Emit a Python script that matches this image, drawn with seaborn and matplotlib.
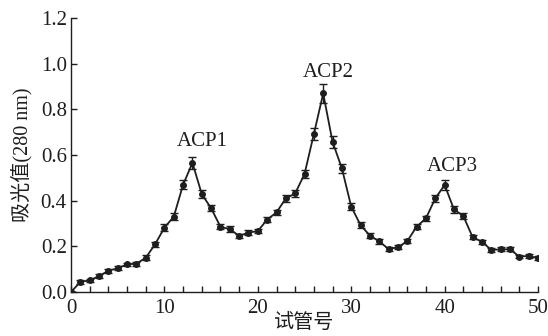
import matplotlib
matplotlib.use("Agg")
import matplotlib.pyplot as plt
from matplotlib.ticker import MultipleLocator
import numpy as np
import pandas as pd
import seaborn as sns

# tube number vs absorbance at 280 nm
tubes = list(range(0, 51))
absorb = [0.000, 0.044, 0.051, 0.070, 0.093, 0.104, 0.121, 0.124, 0.150, 0.209,
          0.282, 0.330, 0.470, 0.566, 0.429, 0.367, 0.286, 0.275, 0.246, 0.260,
          0.267, 0.317, 0.349, 0.410, 0.432, 0.517, 0.692, 0.870, 0.658, 0.542,
          0.374, 0.293, 0.247, 0.222, 0.188, 0.196, 0.223, 0.286, 0.323, 0.410,
          0.469, 0.362, 0.333, 0.240, 0.220, 0.184, 0.187, 0.187, 0.155, 0.158,
          0.148]
err = [0.005, 0.008, 0.008, 0.008, 0.008, 0.008, 0.008, 0.008, 0.010, 0.012,
       0.014, 0.014, 0.020, 0.025, 0.016, 0.014, 0.012, 0.012, 0.010, 0.010,
       0.010, 0.012, 0.012, 0.016, 0.014, 0.018, 0.025, 0.040, 0.025, 0.020,
       0.014, 0.012, 0.010, 0.010, 0.008, 0.008, 0.010, 0.012, 0.012, 0.016,
       0.022, 0.016, 0.014, 0.010, 0.008, 0.008, 0.008, 0.008, 0.008, 0.008,
       0.008]

peak_names = ["ACP1", "ACP2", "ACP3"]
peak_x = [14.1, 27.5, 40.8]
peak_y = [0.66, 0.96, 0.55]

df = pd.DataFrame({"tube": tubes, "abs": absorb, "err": err})

sns.set_style("ticks")
plt.rcParams["font.family"] = ["Liberation Serif", "Noto Sans CJK SC"]

fig = plt.figure(figsize=(5.48, 3.36), dpi=100)
ax = fig.add_axes([0.1296, 0.131, 0.8522, 0.815])

ink = "#1e1e1e"
ax.errorbar(df["tube"], df["abs"], yerr=df["err"], fmt="none", ecolor=ink,
            elinewidth=1.0, capsize=3, capthick=1.0, zorder=2)
sns.lineplot(data=df, x="tube", y="abs", ax=ax, color=ink, linewidth=1.3,
             marker="o", markersize=4.2, markeredgecolor=ink, zorder=3)

for name, px, py in zip(peak_names, peak_x, peak_y):
    ax.text(px, py, name, ha="center", va="center", fontsize=15, color=ink)

ax.set_xlim(0, 50)
ax.set_ylim(0, 1.2)
ax.xaxis.set_major_locator(MultipleLocator(10))
ax.xaxis.set_minor_locator(MultipleLocator(2))
ax.yaxis.set_major_locator(MultipleLocator(0.2))
ax.set_yticklabels([f"{v:.1f}" for v in ax.get_yticks()])
ax.tick_params(axis="both", which="both", direction="in", labelsize=15,
               colors=ink, width=1.0)
ax.tick_params(axis="both", which="major", length=4)
ax.tick_params(axis="y", which="major", pad=3)
ax.tick_params(axis="x", which="major", pad=5)
ax.tick_params(axis="x", which="minor", length=4)

ax.set_xlabel("试管号", fontsize=14.5, labelpad=-3, color=ink)
ax.set_ylabel("吸光值(280 nm)", fontsize=14.5, labelpad=6, color=ink)
sns.despine(ax=ax)
for s in ["left", "bottom"]:
    ax.spines[s].set_linewidth(1.0)
    ax.spines[s].set_color(ink)

fig.savefig("out.png", dpi=100)
